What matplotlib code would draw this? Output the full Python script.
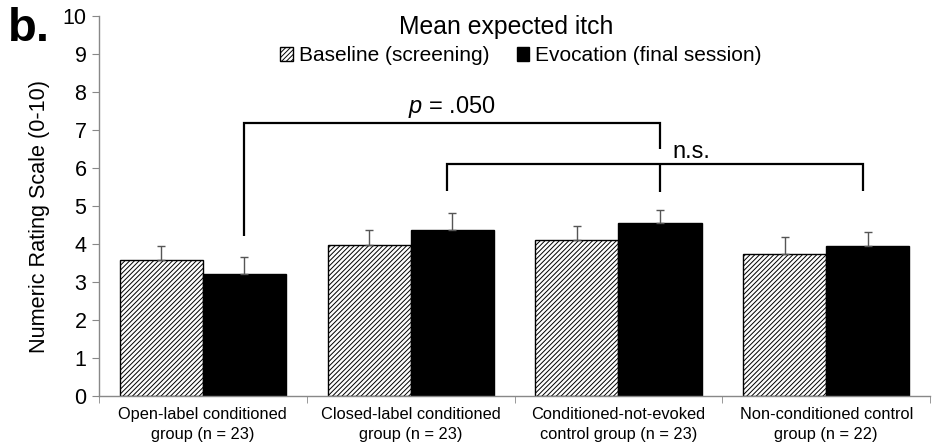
import matplotlib
matplotlib.use("Agg")
import matplotlib.pyplot as plt
import numpy as np

plt.rcParams['font.family'] = ['Liberation Sans', 'DejaVu Sans']
plt.rcParams['mathtext.fontset'] = 'custom'
plt.rcParams['mathtext.it'] = 'Liberation Sans:italic'
plt.rcParams['mathtext.rm'] = 'Liberation Sans'
plt.rcParams['hatch.linewidth'] = 0.7
plt.rcParams['hatch.color'] = '#222222'

categories = ["Open-label conditioned\ngroup (n = 23)",
              "Closed-label conditioned\ngroup (n = 23)",
              "Conditioned-not-evoked\ncontrol group (n = 23)",
              "Non-conditioned control\ngroup (n = 22)"]
series_names = ["Baseline (screening)", "Evocation (final session)"]
baseline = [3.58, 3.98, 4.11, 3.73]
baseline_err = [0.38, 0.40, 0.37, 0.45]
evocation = [3.21, 4.36, 4.56, 3.94]
evocation_err = [0.45, 0.46, 0.34, 0.38]
yticks = list(range(0, 11))

fig = plt.figure(figsize=(9.32, 4.48), dpi=100)
ax = fig.add_axes([0.1062, 0.1161, 0.8918, 0.8482])

x = np.arange(len(categories))
w = 0.4
err_kw = dict(ecolor='#555555', elinewidth=1.0, capsize=3, capthick=1.0)
ax.bar(x - w/2, baseline, w, color='white', edgecolor='black', hatch='///////',
       linewidth=1.0, label=series_names[0],
       yerr=[np.zeros(4), baseline_err], error_kw=err_kw)
ax.bar(x + w/2, evocation, w, color='black', edgecolor='black',
       linewidth=1.0, label=series_names[1],
       yerr=[np.zeros(4), evocation_err], error_kw=err_kw)

ax.set_xlim(-0.5, 3.5)
ax.set_ylim(0, 10)
ax.set_yticks(yticks)
ax.set_yticklabels([str(t) for t in yticks], fontsize=15.5)
ax.set_xticks(x)
ax.set_xticklabels(categories, fontsize=11.8, linespacing=1.4)
ax.set_xticks(np.arange(-0.5, 4.0, 1.0), minor=True)
ax.tick_params(axis='x', which='major', length=0, pad=8)
ax.tick_params(axis='x', which='minor', length=5, color='#888888', direction='out')
ax.tick_params(axis='y', which='major', length=5, color='#888888', direction='out', pad=4)
for s in ['top', 'right']:
    ax.spines[s].set_visible(False)
for s in ['left', 'bottom']:
    ax.spines[s].set_color('#888888')
    ax.spines[s].set_linewidth(1.0)

ax.set_ylabel("Numeric Rating Scale (0-10)", fontsize=15.6)
ax.yaxis.set_label_coords(-0.059, 0.473)

# significance brackets
off = 0.2
lw = 1.6
# p = .050 bracket: group 1 evocation vs group 3 evocation
ax.plot([0 + off, 0 + off, 2 + off, 2 + off], [4.22, 7.19, 7.19, 6.5],
        color='black', lw=lw, solid_capstyle='butt', solid_joinstyle='miter')
ax.text(1 + off, 7.25, r"$\it{p}$ = .050", ha='center', va='bottom', fontsize=17)
# n.s. bracket
ax.plot([1 + off - 0.025, 1 + off - 0.025, 3 + off - 0.025, 3 + off - 0.025],
        [5.39, 6.1, 6.1, 5.39],
        color='black', lw=lw, solid_capstyle='butt', solid_joinstyle='miter')
ax.plot([2 + off, 2 + off], [6.1, 5.37], color='black', lw=lw, solid_capstyle='butt')
ax.text(2 + 0.35, 6.12, "n.s.", ha='center', va='bottom', fontsize=17)

leg = ax.legend(loc='center', bbox_to_anchor=(0.508, 0.895), ncol=2, frameon=False,
                fontsize=15, handlelength=0.6, handleheight=0.6, handletextpad=0.3,
                columnspacing=1.3, borderaxespad=0, borderpad=0)
fig.text(0.5435, 0.94, "Mean expected itch", ha='center', va='center', fontsize=17.8)
fig.text(0.008, 0.935, "b.", ha='left', va='center', fontsize=34, fontweight='bold')

fig.savefig("out.png", dpi=100)
